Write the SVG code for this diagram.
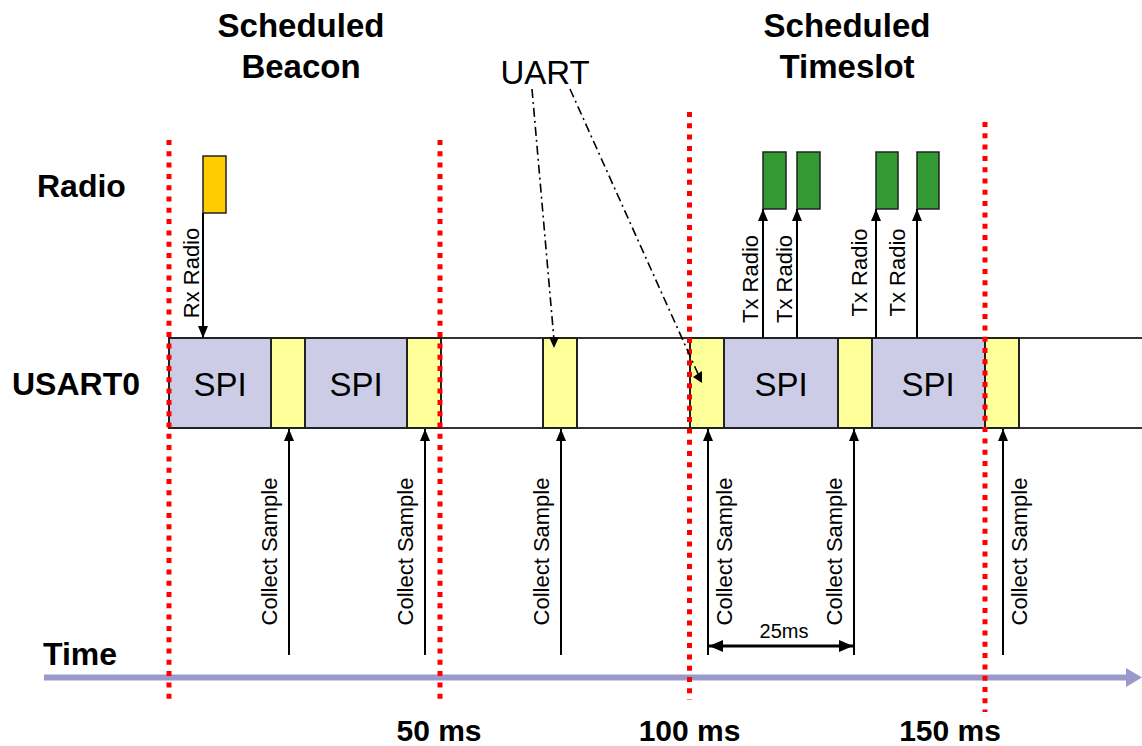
<svg xmlns="http://www.w3.org/2000/svg" width="1142" height="746" viewBox="0 0 1142 746">
<defs>
<style>
.t{font-family:"Liberation Sans",Arial,sans-serif;fill:#000}
.b{font-weight:bold;font-size:33px}
.lab{font-size:32px;font-weight:bold}
.spi{fill:#CCCCE6;stroke:#222;stroke-width:2}
.yel{fill:#FFFF99;stroke:#222;stroke-width:2}
.red{stroke:#FF0000;stroke-width:5;stroke-dasharray:5 6.3}
.arr{stroke:#000;stroke-width:2;fill:none}
.dd{stroke:#000;stroke-width:1.6;fill:none;stroke-dasharray:9 4 2 4}
.rot{font-size:22px}
.ms{font-size:30px;font-weight:bold}
</style>
<marker id="ah" viewBox="0 0 12 12" refX="12" refY="6" markerWidth="12" markerHeight="12" markerUnits="userSpaceOnUse" orient="auto-start-reverse">
<path d="M0,1 L12,6 L0,11 Z" fill="#000"/>
</marker>
<marker id="ah2" viewBox="0 0 14 12" refX="14" refY="6" markerWidth="14" markerHeight="12" markerUnits="userSpaceOnUse" orient="auto-start-reverse">
<path d="M0,0 L14,6 L0,12 Z" fill="#000"/>
</marker>
</defs>
<rect width="1142" height="746" fill="#fff"/>

<g id="titles">
<text class="t b" x="301" y="37" text-anchor="middle">Scheduled</text>
<text class="t b" x="301" y="78" text-anchor="middle">Beacon</text>
<text class="t b" x="847" y="37" text-anchor="middle">Scheduled</text>
<text class="t b" x="847" y="78" text-anchor="middle">Timeslot</text>
<text class="t" x="545" y="84" text-anchor="middle" font-size="33">UART</text>
</g>

<g id="row-labels">
<text class="t lab" x="37" y="197">Radio</text>
<text class="t lab" x="12" y="395">USART0</text>
<text class="t lab" x="43" y="665">Time</text>
</g>

<g id="time-axis">
<line x1="44" y1="677.5" x2="1127" y2="677.5" stroke="#9999CC" stroke-width="6"/>
<polygon points="1126,668 1142,677.5 1126,687" fill="#9999CC"/>
</g>

<g id="usart-band">
<line x1="168" y1="338" x2="1142" y2="338" stroke="#333" stroke-width="2"/>
<line x1="168" y1="428" x2="1142" y2="428" stroke="#333" stroke-width="2"/>
</g>

<g id="spi1"><rect class="spi" x="169" y="338" width="102" height="90"/><text class="t" x="220" y="396" font-size="33" text-anchor="middle">SPI</text></g>
<g id="uart1"><rect class="yel" x="271" y="338" width="34" height="90"/></g>
<g id="spi2"><rect class="spi" x="305" y="338" width="102" height="90"/><text class="t" x="356" y="396" font-size="33" text-anchor="middle">SPI</text></g>
<g id="uart2"><rect class="yel" x="407" y="338" width="34" height="90"/></g>
<g id="uart3"><rect class="yel" x="543" y="338" width="34" height="90"/></g>
<g id="uart4"><rect class="yel" x="690" y="338" width="34" height="90"/></g>
<g id="spi3"><rect class="spi" x="724" y="338" width="114" height="90"/><text class="t" x="781" y="396" font-size="33" text-anchor="middle">SPI</text></g>
<g id="uart5"><rect class="yel" x="838" y="338" width="34" height="90"/></g>
<g id="spi4"><rect class="spi" x="872" y="338" width="113" height="90"/><text class="t" x="928" y="396" font-size="33" text-anchor="middle">SPI</text></g>
<g id="uart6"><rect class="yel" x="985" y="338" width="34" height="90"/></g>

<g id="rx-radio"><rect x="203" y="156" width="23" height="57" fill="#FFCC00" stroke="#222" stroke-width="1.5"/></g>
<g id="tx1"><rect x="763" y="152" width="23" height="57" fill="#339933" stroke="#222" stroke-width="1.5"/></g>
<g id="tx2"><rect x="797" y="152" width="23" height="57" fill="#339933" stroke="#222" stroke-width="1.5"/></g>
<g id="tx3"><rect x="876" y="152" width="22" height="57" fill="#339933" stroke="#222" stroke-width="1.5"/></g>
<g id="tx4"><rect x="917" y="152" width="22" height="57" fill="#339933" stroke="#222" stroke-width="1.5"/></g>

<g id="markers-time">
<line class="red" x1="169" y1="140" x2="169" y2="700"/>
<line class="red" x1="440" y1="140" x2="440" y2="700"/>
<line class="red" x1="689.5" y1="112" x2="689.5" y2="700"/>
<line class="red" x1="985" y1="122" x2="985" y2="712"/>
<text class="t ms" x="439" y="741" text-anchor="middle">50 ms</text>
<text class="t ms" x="689.5" y="741" text-anchor="middle">100 ms</text>
<text class="t ms" x="950" y="741" text-anchor="middle">150 ms</text>
</g>

<g id="connectors">
<line class="arr" x1="203" y1="213" x2="203" y2="338" marker-end="url(#ah)"/>
<line class="arr" x1="763" y1="338" x2="763" y2="209" marker-end="url(#ah)"/>
<line class="arr" x1="797" y1="338" x2="797" y2="209" marker-end="url(#ah)"/>
<line class="arr" x1="876" y1="338" x2="876" y2="209" marker-end="url(#ah)"/>
<line class="arr" x1="917" y1="338" x2="917" y2="209" marker-end="url(#ah)"/>
<line class="arr" x1="289" y1="655" x2="289" y2="429" marker-end="url(#ah)"/>
<line class="arr" x1="425" y1="655" x2="425" y2="429" marker-end="url(#ah)"/>
<line class="arr" x1="561" y1="655" x2="561" y2="429" marker-end="url(#ah)"/>
<line class="arr" x1="708" y1="655" x2="708" y2="429" marker-end="url(#ah)"/>
<line class="arr" x1="854" y1="655" x2="854" y2="429" marker-end="url(#ah)"/>
<line class="arr" x1="1003" y1="655" x2="1003" y2="429" marker-end="url(#ah)"/>
<line x1="709" y1="646" x2="853" y2="646" stroke="#000" stroke-width="3" marker-start="url(#ah2)" marker-end="url(#ah2)"/>
<line class="dd" x1="532" y1="89" x2="554" y2="340"/>
<polygon points="549,337 559,337 554,348" fill="#000"/>
<line class="dd" x1="570" y1="89" x2="699" y2="376"/>
<polygon points="693,377 702,371 702,383" fill="#000"/>
</g>

<g id="connector-labels">
<text class="t rot" transform="translate(199,273) rotate(-90)" text-anchor="middle">Rx Radio</text>
<text class="t rot" transform="translate(758,279) rotate(-90)" text-anchor="middle">Tx Radio</text>
<text class="t rot" transform="translate(791.5,279) rotate(-90)" text-anchor="middle">Tx Radio</text>
<text class="t rot" transform="translate(866.5,272.5) rotate(-90)" text-anchor="middle">Tx Radio</text>
<text class="t rot" transform="translate(905,272.5) rotate(-90)" text-anchor="middle">Tx Radio</text>
<text class="t rot" transform="translate(277,551.5) rotate(-90)" text-anchor="middle">Collect Sample</text>
<text class="t rot" transform="translate(413,551.5) rotate(-90)" text-anchor="middle">Collect Sample</text>
<text class="t rot" transform="translate(549,551.5) rotate(-90)" text-anchor="middle">Collect Sample</text>
<text class="t rot" transform="translate(732,551.5) rotate(-90)" text-anchor="middle">Collect Sample</text>
<text class="t rot" transform="translate(842,551.5) rotate(-90)" text-anchor="middle">Collect Sample</text>
<text class="t rot" transform="translate(1027,551.5) rotate(-90)" text-anchor="middle">Collect Sample</text>
<text class="t" x="784" y="638" font-size="20" text-anchor="middle">25ms</text>
</g>
</svg>
